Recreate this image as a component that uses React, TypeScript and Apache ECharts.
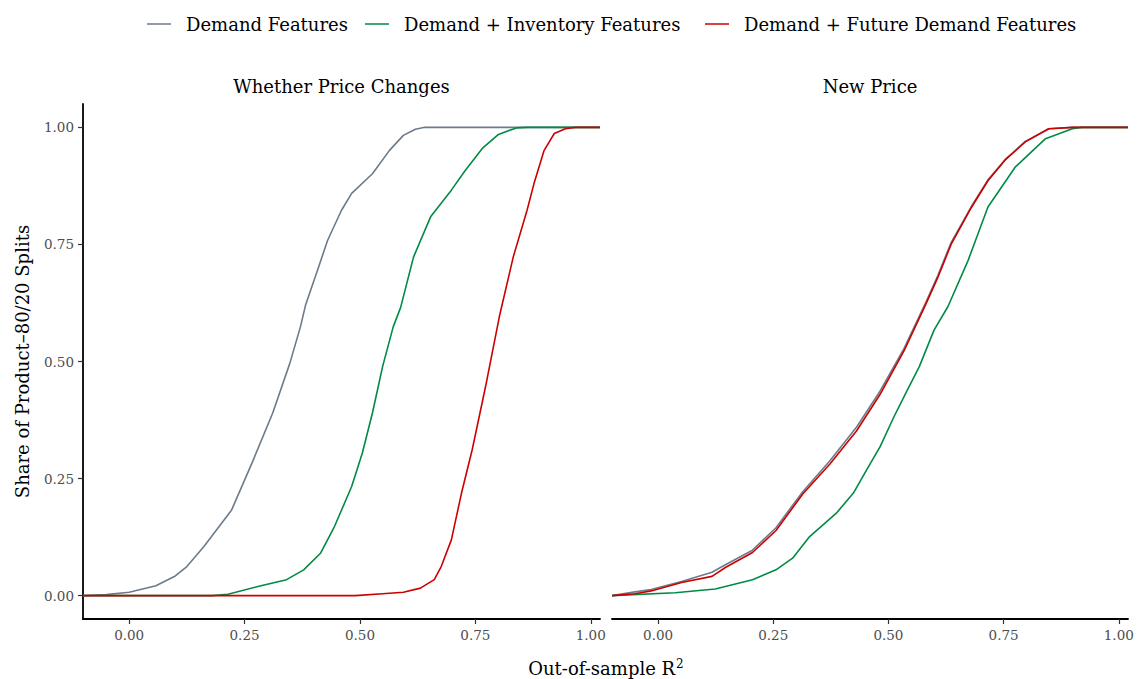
import React, { useEffect, useRef } from "react";
import * as echarts from "echarts";

const SERIES_NAMES = [
  "Demand Features",
  "Demand + Inventory Features",
  "Demand + Future Demand Features",
];
const COLORS = ["#6C7B8B", "#008B45", "#CD0000"];
const PANEL_TITLES = ["Whether Price Changes", "New Price"];
const TICKS_X = [0, 0.25, 0.5, 0.75, 1];
const TICKS_Y = [0, 0.25, 0.5, 0.75, 1];
const X_TITLE = "Out-of-sample R";
const X_TITLE_SUP = "2";
const Y_TITLE = "Share of Product\u201380/20 Splits";

// Panel 1: Whether Price Changes (ECDF quantiles)
const P1_DEMAND_X = [-0.1, -0.05, 0.0, 0.058, 0.1, 0.125, 0.162, 0.222, 0.266, 0.311, 0.348, 0.371, 0.382, 0.408, 0.43, 0.46, 0.482, 0.527, 0.564, 0.594, 0.62, 0.638, 1.02];
const P1_DEMAND_Y = [0, 0.002, 0.007, 0.021, 0.042, 0.062, 0.105, 0.183, 0.283, 0.39, 0.496, 0.574, 0.62, 0.695, 0.759, 0.823, 0.859, 0.901, 0.951, 0.983, 0.996, 1, 1];
const P1_INV_X = [-0.1, 0.18, 0.214, 0.281, 0.341, 0.378, 0.415, 0.445, 0.482, 0.505, 0.527, 0.549, 0.572, 0.588, 0.616, 0.653, 0.698, 0.728, 0.765, 0.8, 0.839, 0.862, 1.02];
const P1_INV_Y = [0, 0, 0.003, 0.02, 0.034, 0.055, 0.091, 0.148, 0.233, 0.304, 0.39, 0.489, 0.574, 0.615, 0.723, 0.809, 0.866, 0.908, 0.955, 0.985, 0.999, 1, 1];
const P1_FUT_X = [-0.1, 0.49, 0.549, 0.594, 0.631, 0.661, 0.676, 0.698, 0.72, 0.743, 0.772, 0.802, 0.832, 0.862, 0.877, 0.899, 0.921, 0.945, 0.966, 1.02];
const P1_FUT_Y = [0, 0, 0.004, 0.007, 0.016, 0.034, 0.062, 0.119, 0.219, 0.311, 0.446, 0.596, 0.723, 0.823, 0.88, 0.951, 0.987, 0.997, 1, 1];

// Panel 2: New Price
const P2_DEMAND_X = [-0.1, -0.05, -0.015, 0.051, 0.117, 0.146, 0.205, 0.256, 0.314, 0.373, 0.431, 0.482, 0.534, 0.581, 0.607, 0.636, 0.68, 0.716, 0.753, 0.797, 0.848, 0.9, 1.02];
const P2_DEMAND_Y = [0, 0.008, 0.013, 0.03, 0.05, 0.066, 0.097, 0.145, 0.222, 0.288, 0.36, 0.437, 0.528, 0.626, 0.683, 0.754, 0.831, 0.888, 0.931, 0.97, 0.997, 1, 1];
const P2_INV_X = [-0.1, 0.037, 0.124, 0.205, 0.256, 0.292, 0.329, 0.387, 0.424, 0.453, 0.482, 0.512, 0.541, 0.567, 0.599, 0.629, 0.673, 0.716, 0.775, 0.841, 0.899, 0.92, 1.02];
const P2_INV_Y = [0, 0.006, 0.014, 0.034, 0.055, 0.08, 0.126, 0.176, 0.219, 0.269, 0.318, 0.382, 0.439, 0.489, 0.567, 0.617, 0.716, 0.83, 0.915, 0.976, 0.997, 1, 1];
const P2_FUT_X = [-0.1, -0.05, -0.015, 0.051, 0.117, 0.146, 0.205, 0.256, 0.314, 0.373, 0.431, 0.482, 0.534, 0.581, 0.607, 0.636, 0.68, 0.716, 0.753, 0.797, 0.848, 0.9, 1.02];
const P2_FUT_Y = [0, 0.004, 0.01, 0.028, 0.041, 0.06, 0.092, 0.139, 0.217, 0.281, 0.352, 0.43, 0.523, 0.622, 0.679, 0.75, 0.829, 0.886, 0.93, 0.969, 0.997, 1, 1];

const PANELS = [
  [[P1_DEMAND_X, P1_DEMAND_Y], [P1_INV_X, P1_INV_Y], [P1_FUT_X, P1_FUT_Y]],
  [[P2_DEMAND_X, P2_DEMAND_Y], [P2_INV_X, P2_INV_Y], [P2_FUT_X, P2_FUT_Y]],
];

const FONT = "'DejaVu Serif', 'Liberation Serif', serif";
const GRID_LEFTS = [83, 612];
const GRID_WIDTHS = [517, 516];
const GRID_TOP = 104;
const GRID_HEIGHT = 515;
const LEGEND_LEFTS = [142, 360, 700];

export default function App() {
  const ref = useRef<HTMLDivElement>(null);
  useEffect(() => {
    document.body.style.margin = "0";
    if (!ref.current) return;
    const chart = echarts.init(ref.current, undefined, { renderer: "svg" });
    const fmt = (v: number) => v.toFixed(2);
    const series: any[] = [];
    PANELS.forEach((panel, p) => {
      panel.forEach(([xs, ys], k) => {
        series.push({
          type: "line",
          name: SERIES_NAMES[k],
          xAxisIndex: p,
          yAxisIndex: p,
          data: xs.map((x: number, i: number) => [x, ys[i]]),
          symbol: "none",
          showSymbol: false,
          silent: true,
          z: 2 + k,
          lineStyle: { width: 1.6, color: COLORS[k] },
          itemStyle: { color: COLORS[k] },
        });
      });
    });
    const option: any = {
      animation: false,
      backgroundColor: "#ffffff",
      textStyle: { fontFamily: FONT },
      legend: SERIES_NAMES.map((n, k) => ({
        data: [n],
        left: LEGEND_LEFTS[k],
        top: 10,
        icon: "rect",
        itemWidth: 24,
        itemHeight: 1.5,
        selectedMode: false,
        textStyle: {
          fontFamily: FONT,
          fontSize: 18,
          color: "#000",
          padding: [0, 0, 0, 10],
        },
      })),
      grid: GRID_LEFTS.map((l, i) => ({
        left: l,
        top: GRID_TOP,
        width: GRID_WIDTHS[i],
        height: GRID_HEIGHT,
      })),
      xAxis: [0, 1].map((i) => ({
        type: "value",
        gridIndex: i,
        min: -0.1,
        max: 1.02,
        splitLine: { show: false },
        axisLine: { show: true, onZero: false, lineStyle: { color: "#000", width: 1.8 } },
        axisTick: {
          show: true,
          length: 5,
          lineStyle: { color: "#333", width: 1.2 },
          customValues: TICKS_X,
        },
        axisLabel: {
          customValues: TICKS_X,
          formatter: fmt,
          color: "#4D4D4D",
          fontFamily: FONT,
          fontSize: 13.5,
          margin: 9,
        },
      })),
      yAxis: [0, 1].map((i) => ({
        type: "value",
        gridIndex: i,
        min: -0.05,
        max: 1.05,
        show: i === 0,
        splitLine: { show: false },
        axisLine: { show: true, onZero: false, lineStyle: { color: "#000", width: 1.8 } },
        axisTick: {
          show: true,
          length: 5,
          lineStyle: { color: "#333", width: 1.2 },
          customValues: TICKS_Y,
        },
        axisLabel: {
          customValues: TICKS_Y,
          formatter: fmt,
          color: "#4D4D4D",
          fontFamily: FONT,
          fontSize: 13.5,
          margin: 9,
        },
        name: i === 0 ? Y_TITLE : "",
        nameLocation: "middle",
        nameRotate: 90,
        nameGap: 52,
        nameTextStyle: { fontFamily: FONT, fontSize: 18, color: "#000" },
      })),
      graphic: [
        ...PANEL_TITLES.map((t, i) => ({
          type: "text",
          x: GRID_LEFTS[i] + GRID_WIDTHS[i] / 2,
          y: 86,
          silent: true,
          style: {
            text: t,
            fill: "#000",
            font: `18px ${FONT}`,
            textAlign: "center",
            textVerticalAlign: "middle",
          },
        })),
        {
          type: "text",
          x: 606,
          y: 668,
          silent: true,
          style: {
            text: `{a|${X_TITLE}}{s|${X_TITLE_SUP}}`,
            textAlign: "center",
            textVerticalAlign: "middle",
            rich: {
              a: { fontFamily: FONT, fontSize: 18, fill: "#000", color: "#000" },
              s: { fontFamily: FONT, fontSize: 12, fill: "#000", color: "#000", verticalAlign: "top", padding: [0, 0, 8, 1] },
            },
          },
        },
      ],
      series,
    };
    chart.setOption(option);
    return () => chart.dispose();
  }, []);
  return <div ref={ref} style={{ width: 1138, height: 679 }} />;
}
